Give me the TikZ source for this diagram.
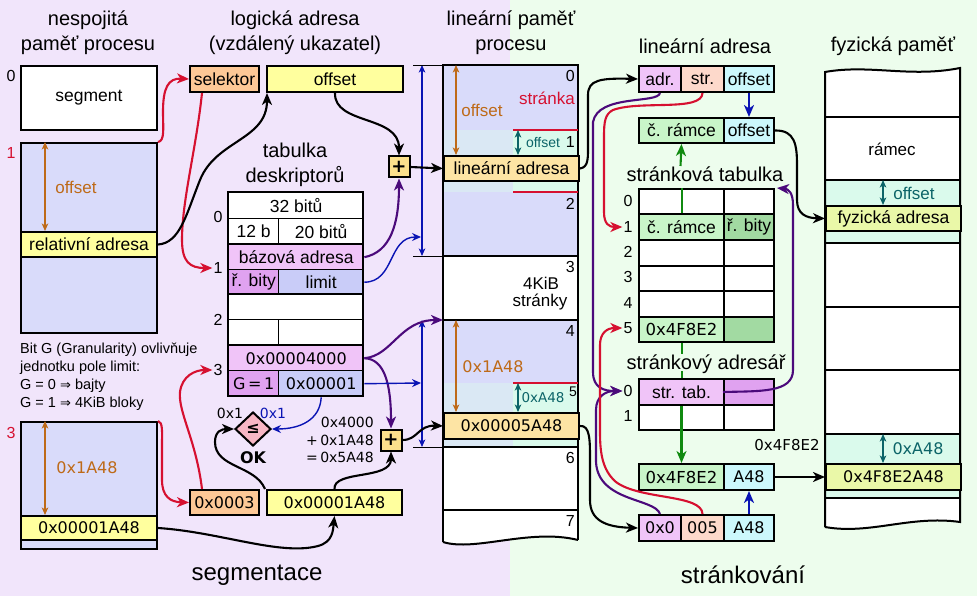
\documentclass[tikz,border=0pt]{standalone}
\usepackage{fontspec}
\setmainfont{Liberation Sans}
\newfontfamily\dv{DejaVu Sans}
\usetikzlibrary{arrows.meta,shapes.geometric}
\newcommand\myfs[1]{\fontsize{#1}{#1}\selectfont}
\definecolor{bgpur}{RGB}{241,229,251}
\definecolor{bggrn}{RGB}{237,253,237}
\definecolor{memblue}{RGB}{217,219,250}
\definecolor{lyel}{RGB}{255,255,158}
\definecolor{selor}{RGB}{253,200,150}
\definecolor{linor}{RGB}{253,228,164}
\definecolor{pinka}{RGB}{240,196,248}
\definecolor{pinkb}{RGB}{224,162,240}
\definecolor{limc}{RGB}{201,204,248}
\definecolor{cyanL}{RGB}{218,232,244}
\definecolor{cyanR}{RGB}{218,250,236}
\definecolor{grna}{RGB}{201,245,201}
\definecolor{grnb}{RGB}{162,218,162}
\definecolor{cyc}{RGB}{204,248,252}
\definecolor{peach}{RGB}{253,217,203}
\definecolor{physy}{RGB}{234,248,168}
\definecolor{diap}{RGB}{247,182,196}
\definecolor{plusc}{RGB}{252,224,140}
\definecolor{cred}{RGB}{214,16,48}
\definecolor{cpur}{RGB}{75,10,123}
\definecolor{cblue}{RGB}{10,20,180}
\definecolor{corg}{RGB}{190,106,24}
\definecolor{cteal}{RGB}{12,100,104}
\definecolor{cgrn}{RGB}{16,138,16}
\tikzset{
  cell/.style={draw=black, line width=2pt, inner sep=0pt, anchor=north west, font=\myfs{17.5}},
  hex/.style={font=\dv\myfs{16}},
  arr/.style={-{Stealth[length=12pt,width=10pt,inset=3.5pt]}, line width=2.1pt},
  thinarr/.style={-{Stealth[length=9pt,width=8pt,inset=3pt]}, line width=1.4pt},
  dbl/.style={{Stealth[length=7.5pt,width=6.5pt,inset=2pt]}-{Stealth[length=7.5pt,width=6.5pt,inset=2pt]}, line width=1.4pt},
  title/.style={font=\fontsize{20}{25}\selectfont, align=center, inner sep=0pt},
  bigtitle/.style={font=\myfs{24}, inner sep=0pt},
  lbl/.style={font=\myfs{16}, inner sep=1pt},
  plusbox/.style={draw, line width=2pt, fill=plusc, minimum size=21pt, inner sep=0pt, font=\dv\bfseries\myfs{18}},
  memline/.style={line width=2pt},
}
\begin{document}
\begin{tikzpicture}[x=1pt,y=-1pt]
\useasboundingbox (0,0) rectangle (977,596);
\fill[bgpur] (0,0) rectangle (510,596);
\fill[bggrn] (510,0) rectangle (977,596);

% titles
\node[title] (t1) at (88,33) {nespojitá\\paměť procesu};
\node[title] (t2) at (295,33) {logická adresa\\(vzdálený ukazatel)};
\node[title] (t3) at (511,33) {lineární paměť\\procesu};
\node[title] (t4) at (705,46) {lineární adresa};
\node[title] (t5) at (893,46) {fyzická paměť};
\node[title] (t6) at (295,165) {tabulka\\deskriptorů};
\node[title] (t7) at (705,174) {stránková tabulka};
\node[title] (t8) at (706,364) {stránkový adresář};
\node[bigtitle] (t9) at (257,575) {segmentace};
\node[bigtitle] (t10) at (743,575) {stránkování};

% left memory
\node[cell, fill=white, minimum width=136pt, minimum height=64pt] (seg0) at (20,65) {segment};
\node[cell, fill=memblue, minimum width=136pt, minimum height=190pt] (seg1) at (20,142) {};
\node[cell, fill=lyel, minimum width=136pt, minimum height=25pt] (rel) at (20,231) {relativní adresa};
\node[cell, fill=memblue, minimum width=136pt, minimum height=127pt] (seg3) at (20,421) {};
\node[cell, fill=lyel, minimum width=136pt, minimum height=24pt, hex] (band3) at (20,515) {0x00001A48};
\node[lbl] (sl0) at (11,76) {0};
\node[lbl, text=cred] (sl1) at (11,153) {1};
\node[lbl, text=cred] (sl3) at (11,433) {3};
\draw[dbl, corg] (45,142) -- (45,231);
\node[font=\myfs{17}, text=corg] (ofl) at (76,187) {offset};
\draw[dbl, corg] (45,421) -- (45,515);
\node[font=\dv\myfs{16}, text=corg] (ofl3) at (87,468) {0x1A48};
\node[anchor=west, align=left, font=\fontsize{14.5}{18}\selectfont, inner sep=0pt] (note) at (20,377) {Bit G (Granularity) ovlivňuje\\jednotku pole limit:\\G = 0 {\dv\myfs{13}⇒} bajty\\G = 1 {\dv\myfs{13}⇒} 4KiB bloky};

% logical address
\node[cell, fill=selor, minimum width=69pt, minimum height=26pt] (sel) at (189,65) {selektor};
\node[cell, fill=lyel, minimum width=136pt, minimum height=26pt] (off) at (266,65) {offset};
\node[cell, fill=selor, minimum width=69pt, minimum height=25pt, hex] (sel3) at (189,489) {0x0003};
\node[cell, fill=lyel, minimum width=135pt, minimum height=25pt, hex] (off3) at (266,489) {0x00001A48};
\node[plusbox] (p1) at (399,167) {+};
\node[plusbox] (p2) at (391,440) {+};

% descriptor table
\node[cell, line width=1.4pt, fill=white, minimum width=135pt, minimum height=26pt] (d0a) at (228,192) {32 bitů};
\node[cell, line width=1.4pt, fill=white, minimum width=50pt, minimum height=26pt] (d0b) at (228,218) {12 b};
\node[cell, line width=1.4pt, fill=white, minimum width=85pt, minimum height=26pt] (d0c) at (278,218) {20 bitů};
\node[cell, line width=1.4pt, fill=pinka, minimum width=135pt, minimum height=25pt] (d1a) at (228,244) {bázová adresa};
\node[cell, line width=1.4pt, fill=pinkb, minimum width=50pt, minimum height=25pt] (d1b) at (228,269) {ř. bity};
\node[cell, line width=1.4pt, fill=limc, minimum width=85pt, minimum height=25pt] (d1c) at (278,269) {limit};
\node[cell, line width=1.4pt, fill=white, minimum width=135pt, minimum height=25pt] (d2a) at (228,294) {};
\node[cell, line width=1.4pt, fill=white, minimum width=50pt, minimum height=26pt] (d2b) at (228,319) {};
\node[cell, line width=1.4pt, fill=white, minimum width=85pt, minimum height=26pt] (d2c) at (278,319) {};
\node[cell, line width=1.4pt, fill=pinka, minimum width=135pt, minimum height=25pt, hex] (d3a) at (228,345) {0x00004000};
\node[cell, line width=1.4pt, fill=pinkb, minimum width=50pt, minimum height=26pt, hex] (d3b) at (228,370) {G\,=\,1};
\node[cell, line width=1.4pt, fill=limc, minimum width=85pt, minimum height=26pt, hex] (d3c) at (278,370) {0x00001};
\foreach \ya/\yb in {192/244,244/294,294/345,345/396}
  \draw[line width=2.6pt] (228,\ya) rectangle (363,\yb);
\node[lbl] (dl0) at (218,217) {0};
\node[lbl] (dl1) at (218,268) {1};
\node[lbl] (dl2) at (218,320) {2};
\node[lbl] (dl3) at (218,370) {3};

% comparison
\node[diamond, draw, line width=2pt, fill=diap, minimum width=36pt, minimum height=34pt, inner sep=0pt, font=\dv\bfseries\myfs{16}] (cmp) at (253,429) {≤};
\node[font=\dv\bfseries\myfs{16}] (ok) at (253,458) {OK};
\node[font=\dv\myfs{14}] (c1) at (230,413) {0x1};
\node[font=\dv\myfs{14}, text=cblue] (c2) at (273,413) {0x1};
\node[anchor=east, align=right, font=\dv\fontsize{14}{17.5}\selectfont, inner sep=0pt] (sum) at (374,440) {0x4000\\+\,0x1A48\\=\,0x5A48};

% linear memory
\fill[memblue] (443,65) rectangle (578,130);
\fill[cyanL] (443,130) rectangle (513,192);
\fill[cyanR] (513,130) rectangle (578,192);
\fill[memblue] (443,192) rectangle (578,256);
\fill[white] (443,256) rectangle (578,320);
\fill[memblue] (443,320) rectangle (578,383);
\fill[cyanL] (443,383) rectangle (513,447);
\fill[cyanR] (513,383) rectangle (578,447);
\fill[white] (443,447) -- (578,447) -- (578,540) .. controls (530,528) and (475,552) .. (443,542) -- cycle;
\draw[memline] (443,542) -- (443,65) -- (578,65) -- (578,540);
\draw[memline] (443,542) .. controls (475,552) and (530,528) .. (578,540);
\foreach \yy in {256,320,447,510} \draw[memline] (443,\yy) -- (578,\yy);
\draw[cred, line width=1.3pt] (513,130) -- (578,130) (513,192) -- (578,192) (513,383) -- (578,383);
\node[cell, fill=linor, minimum width=135pt, minimum height=25pt] (la1) at (443,155) {lineární adresa};
\node[cell, fill=linor, minimum width=135pt, minimum height=26pt, hex] (la2) at (443,412) {0x00005A48};
\draw[dbl, corg] (456,65) -- (456,155);
\node[font=\myfs{17}, text=corg] (lo1) at (482,110) {offset};
\draw[dbl, corg] (456,320) -- (456,412);
\node[font=\dv\myfs{16}, text=corg] (lo2) at (493,367) {0x1A48};
\draw[dbl, cteal] (518,130) -- (518,155);
\node[font=\myfs{14}, text=cteal] (lo3) at (543,143) {offset};
\draw[dbl, cteal] (518,383) -- (518,412);
\node[font=\dv\myfs{13.5}, text=cteal] (lo4) at (543,398) {0xA48};
\node[lbl, anchor=east] (pg0) at (576,76) {0};
\node[font=\myfs{17}, text=cred, anchor=east, inner sep=1pt] (strk) at (576,98) {stránka};
\node[lbl, anchor=east] (pgl1) at (576,142) {1};
\node[lbl, anchor=east] (pgl2) at (576,204) {2};
\node[lbl, anchor=east] (pgl3) at (576,267) {3};
\node[font=\myfs{17}] (kib) at (541,283) {4KiB};
\node[font=\myfs{17}] (strky) at (540,302) {stránky};
\node[lbl, anchor=east] (pgl4) at (576,331) {4};
\node[font=\myfs{14}, anchor=east, inner sep=1pt] (pgl5) at (578,392) {5};
\node[lbl, anchor=east] (pgl6) at (576,458) {6};
\node[lbl, anchor=east] (pgl7) at (576,521) {7};
\draw[dbl, cblue] (422,65) -- (422,256);
\draw[dbl, cblue] (422,320) -- (422,447);
\draw[line width=0.9pt] (413,65) -- (443,65) (413,256) -- (443,256) (413,447) -- (443,447);
\coordinate (bl1) at (421,237);
\coordinate (bl2) at (421,383);
\coordinate (pg4) at (443,320);

% paging: linear address
\node[cell, fill=pinka, minimum width=42pt, minimum height=26pt] (adr) at (638,65) {adr.};
\node[cell, fill=peach, minimum width=43pt, minimum height=26pt] (str) at (680,65) {str.};
\node[cell, fill=cyc, minimum width=50pt, minimum height=26pt] (offs) at (723,65) {offset};
\node[cell, fill=grna, minimum width=85pt, minimum height=25pt] (ram) at (638,117) {č. rámce};
\node[cell, fill=cyc, minimum width=50pt, minimum height=25pt] (offs2) at (723,117) {offset};

% page table
\node[cell, fill=white, minimum width=85pt, minimum height=25.5pt] (pt0a) at (638,188) {};
\node[cell, fill=white, minimum width=50pt, minimum height=25.5pt] (pt0b) at (723,188) {};
\node[cell, fill=grna, minimum width=85pt, minimum height=25.5pt] (pt1a) at (638,213.5) {č. rámce};
\node[cell, fill=grnb, minimum width=50pt, minimum height=25.5pt] (pt1b) at (723,213.5) {ř. bity};
\foreach \yy/\nm in {239/2,264.5/3,290/4} {
  \node[cell, fill=white, minimum width=85pt, minimum height=25.5pt] (pt\nm a) at (638,\yy) {};
  \node[cell, fill=white, minimum width=50pt, minimum height=25.5pt] (pt\nm b) at (723,\yy) {};
}
\node[cell, fill=grna, minimum width=85pt, minimum height=25.5pt, font=\dv\myfs{16.5}] (pt5a) at (638,315.5) {0x4F8E2};
\node[cell, fill=grnb, minimum width=50pt, minimum height=25.5pt] (pt5b) at (723,315.5) {};
\node[lbl] (ptl0) at (628,201) {0};
\node[lbl] (ptl1) at (628,227) {1};
\node[lbl] (ptl2) at (628,252) {2};
\node[lbl] (ptl3) at (628,277) {3};
\node[lbl] (ptl4) at (628,303) {4};
\node[lbl] (ptl5) at (628,328) {5};

% page directory
\node[cell, fill=pinka, minimum width=85pt, minimum height=26pt] (pd0a) at (638,378) {str. tab.};
\node[cell, fill=pinkb, minimum width=50pt, minimum height=26pt] (pd0b) at (723,378) {};
\node[cell, fill=white, minimum width=85pt, minimum height=25pt] (pd1a) at (638,404) {};
\node[cell, fill=white, minimum width=50pt, minimum height=25pt] (pd1b) at (723,404) {};
\node[lbl] (pdl0) at (628,391) {0};
\node[lbl] (pdl1) at (628,416) {1};

% result and linear address (bottom)
\node[cell, fill=grna, minimum width=85pt, minimum height=26pt, font=\dv\myfs{16.5}] (r1) at (638,463) {0x4F8E2};
\node[cell, fill=cyc, minimum width=50pt, minimum height=26pt, hex] (rA48) at (723,463) {A48};
\node[cell, fill=pinka, minimum width=42pt, minimum height=26pt, hex] (b0x0) at (638,514) {0x0};
\node[cell, fill=peach, minimum width=43pt, minimum height=26pt, hex] (b005) at (680,514) {005};
\node[cell, fill=cyc, minimum width=50pt, minimum height=26pt, hex] (b48) at (723,514) {A48};
\node[font=\dv\myfs{15}] (fr) at (787,445) {0x4F8E2};

% physical memory
\fill[white] (825,72) .. controls (870,64) and (910,78) .. (960,68) -- (960,522) .. controls (910,515) and (870,535) .. (825,527) -- cycle;
\fill[cyanR] (825,180) rectangle (960,243);
\fill[cyanR] (825,434) rectangle (960,498);
\draw[memline] (825,527) -- (825,72) .. controls (870,64) and (910,78) .. (960,68) -- (960,522) .. controls (910,515) and (870,535) .. (825,527);
\foreach \yy in {117,180,243,307,370,434,498} \draw[memline] (825,\yy) -- (960,\yy);
\node[cell, fill=physy, minimum width=135pt, minimum height=25pt] (fyz1) at (825,205) {fyzická adresa};
\node[cell, fill=physy, minimum width=135pt, minimum height=26pt, hex] (fyz2) at (825,463) {0x4F8E2A48};
\node[font=\myfs{17}] (ramec) at (892,149) {rámec};
\draw[dbl, cteal] (883,180) -- (883,205);
\node[font=\myfs{17}, text=cteal] (fo1) at (914,193) {offset};
\draw[dbl, cteal] (883,434) -- (883,463);
\node[font=\dv\myfs{16}, text=cteal] (fo2) at (918,449) {0xA48};

% connectors: segmentation
\draw[arr, cred] (seg1.north east) .. controls (165,141) and (163,128) .. (163,112) .. controls (163,88) and (168,78) .. (sel.west);
\draw[arr, cred] ([xshift=13pt]sel.south west) .. controls (196,150) and (182,200) .. (182,240) .. controls (182,262) and (190,268) .. (dl1.west);
\draw[arr] (rel.east) .. controls (180,243) and (186,215) .. (200,180) .. controls (216,140) and (267,140) .. ([xshift=1pt]off.south west);
\draw[arr] (off.south) .. controls (334,125) and (399,115) .. (p1.north);
\draw[arr, cpur] (d1a.east) .. controls (390,252) and (399,225) .. (p1.south);
\draw[thinarr, cblue] (d1c.east) .. controls (395,282) and (388,237) .. (bl1);
\draw[arr] (p1.east) -- (la1.west);
\draw[arr, cred] (seg3.north east) .. controls (163,422) and (162,432) .. (162,445) -- (162,480) .. controls (162,496) and (170,502) .. (sel3.west);
\draw[arr, cred] ([xshift=13pt]sel3.north west) .. controls (196,440) and (178,412) .. (180,392) .. controls (182,376) and (195,370) .. (dl3.west);
\draw[arr] (band3.east) .. controls (220,532) and (280,556) .. (318,546) .. controls (333,542) and (333,530) .. (off3.south);
\draw[arr] (off3.north) .. controls (333,470) and (391,480) .. (p2.south);
\draw[arr] ([xshift=-1pt]off3.north west) .. controls (255,465) and (215,468) .. (215,442) .. controls (215,431) and (222,429) .. (cmp.west);
\draw[thinarr, cblue] (d3c.south) .. controls (320,420) and (300,429) .. (cmp.east);
\draw[arr, cpur] (d3a.east) .. controls (392,356) and (400,320) .. (pg4);
\draw[arr, cpur] (d3a.east) .. controls (385,359) and (391,385) .. (p2.north);
\draw[thinarr, cblue] (d3c.east) -- (bl2);
\draw[arr] (p2.east) .. controls (418,440) and (418,425) .. (la2.west);

% connectors: paging
\draw[arr] (la1.east) .. controls (589,167) and (588,158) .. (588,140) -- (588,95) .. controls (588,80) and (600,78) .. (adr.west);
\draw[arr] (la2.east) .. controls (590,425) and (590,440) .. (590,460) -- (590,500) .. controls (590,520) and (605,527) .. (b0x0.west);
\draw[arr, cpur] (adr.south) .. controls (658,104) and (598,94) .. (593,122) -- (593,372) .. controls (593,388) and (604,391) .. (pdl0.west);
\draw[arr, cred] (str.south) .. controls (702,112) and (640,100) .. (613,110) .. controls (605,114) and (604,122) .. (604,136) -- (604,212) .. controls (604,224) and (609,227) .. (ptl1.west);
\draw[arr, cpur] (b0x0.north) .. controls (655,498) and (598,502) .. (596,462) -- (596,410) .. controls (596,396) and (606,391) .. (pdl0.west);
\draw[arr, cred] (b005.north) .. controls (702,494) and (640,500) .. (616,482) .. controls (602,470) and (600,452) .. (600,432) -- (600,345) .. controls (600,333) and (607,328) .. (ptl5.west);
\draw[arr, cpur] (pd0b.west) .. controls (760,391) and (793,393) .. (793,370) -- (793,205) .. controls (793,192) and (788,189) .. ([xshift=2pt]pt0b.north east);
\draw[arr, cblue] (offs.south) -- (offs2.north);
\draw[line width=2pt, cgrn] (pt1a.north) -- (pt0a.north);
\draw[arr, cgrn] (680.5,166) -- (ram.south);
\draw[line width=2pt, cgrn] (pt5a.south) -- ++(0,11);
\draw[line width=2pt, cgrn] (pd0a.north) -- ++(0,-7);
\draw[arr, cgrn] (pd0a.south) -- (r1.north);
\draw[arr] (offs2.east) .. controls (795,130) and (797,145) .. (797,165) -- (797,200) .. controls (797,214) and (806,218) .. (fyz1.west);
\draw[arr, cblue] (b48.north) -- (rA48.south);
\draw[arr] (rA48.east) -- (fyz2.west);
\end{tikzpicture}
\end{document}
